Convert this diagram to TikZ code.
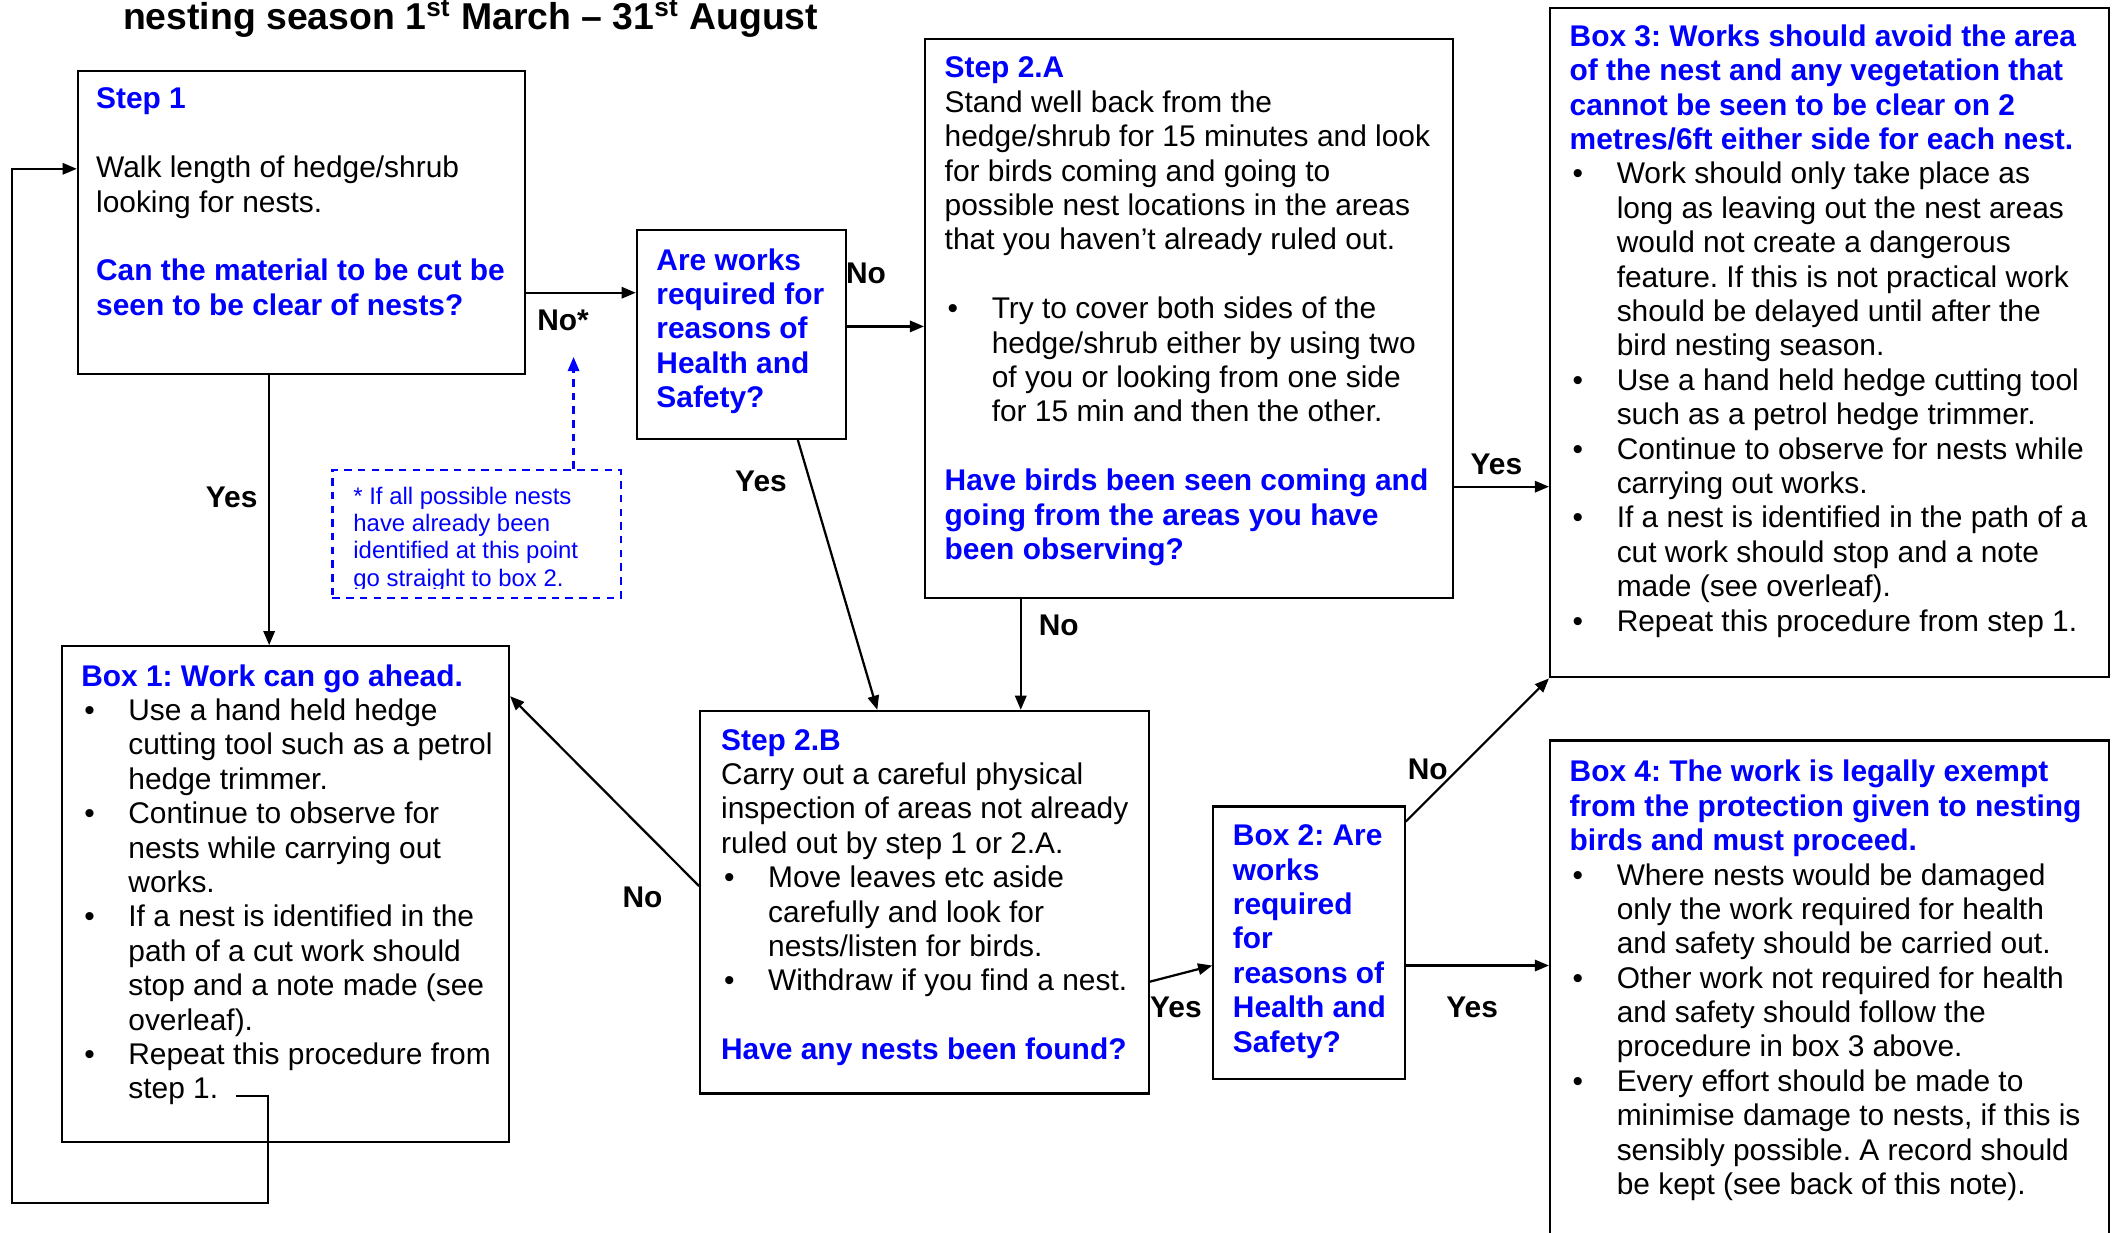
\documentclass[tikz,border=0pt]{standalone}
\usepackage{fontspec}
\setmainfont{Liberation Sans}
\usetikzlibrary{arrows.meta}
\frenchspacing

\newlength{\bulind}
\setlength{\bulind}{18.9pt}
\newcommand{\hd}[1]{{\color{blue}\bfseries #1}}
\newcommand{\bitem}{\makebox[\bulind][l]{\hspace*{1.2pt}\textbullet}}
\newcommand{\bcont}{\hspace*{\bulind}}

\begin{document}
\begin{tikzpicture}[x=0.019cm, y=-0.019cm,
    box/.style 2 args={draw, line width=0.9pt, minimum width=#1*0.019cm, minimum height=#2*0.019cm, anchor=north west, inner sep=0pt},
    txt/.style={anchor=north west, align=left, inner sep=0pt, font=\fontsize{12}{13.8}\selectfont},
    lbl/.style={inner sep=0pt, font=\fontsize{12}{13.8}\selectfont\bfseries},
    arr/.style={line width=0.9pt, -{Triangle[length=0.2cm,width=0.16cm]}},
    notearr/.style={blue, line width=0.9pt, dash pattern=on 3pt off 2.5pt, -{Triangle[length=0.2cm,width=0.16cm]}}]
    \useasboundingbox (0,0) rectangle (1568,915);

    % Title (cut at the top)
    \node[anchor=base west, inner sep=0pt, font=\fontsize{15}{18}\selectfont\bfseries] (title) at (91,22)
        {nesting season 1\textsuperscript{st} March – 31\textsuperscript{st} August};

    % Boxes
    \node[box={332}{225}] (s1) at (57,52) {};
    \node[box={155}{155}] (hs1) at (472,170) {};
    \node[box={392}{415}] (s2a) at (686,28) {};
    \node[box={415}{497}] (b3) at (1150,5) {};
    \node[box={332}{368}] (b1) at (45,479) {};
    \node[box={333}{284}] (s2b) at (519,527) {};
    \node[box={142}{202}] (b2) at (900,598) {};
    \node[box={415}{380}] (b4) at (1150,549) {};
    \node[box={214}{95}, draw=blue, dash pattern=on 3pt off 2.5pt] (note) at (246,348) {};

    % Texts in the boxes
    \node[txt] (s1t) at (71,65) {\hd{Step 1}\\[13.8pt]
        Walk length of hedge/shrub\\
        looking for nests.\\[13.8pt]
        \hd{Can the material to be cut be}\\
        \hd{seen to be clear of nests?}};
    \node[txt] (hs1t) at (487,184) {\hd{Are works}\\ \hd{required for}\\ \hd{reasons of}\\ \hd{Health and}\\ \hd{Safety?}};
    \node[txt] (s2at) at (701,42) {\hd{Step 2.A}\\
        Stand well back from the\\
        hedge/shrub for 15 minutes and look\\
        for birds coming and going to\\
        possible nest locations in the areas\\
        that you haven’t already ruled out.\\[13.8pt]
        \bitem Try to cover both sides of the\\
        \bcont hedge/shrub either by using two\\
        \bcont of you or looking from one side\\
        \bcont for 15 min and then the other.\\[13.8pt]
        \hd{Have birds been seen coming and}\\
        \hd{going from the areas you have}\\
        \hd{been observing?}};
    \node[txt] (b3t) at (1165,18) {\hd{Box 3: Works should avoid the area}\\
        \hd{of the nest and any vegetation that}\\
        \hd{cannot be seen to be clear on 2}\\
        \hd{metres/6ft either side for each nest.}\\
        \bitem Work should only take place as\\
        \bcont long as leaving out the nest areas\\
        \bcont would not create a dangerous\\
        \bcont feature. If this is not practical work\\
        \bcont should be delayed until after the\\
        \bcont bird nesting season.\\
        \bitem Use a hand held hedge cutting tool\\
        \bcont such as a petrol hedge trimmer.\\
        \bitem Continue to observe for nests while\\
        \bcont carrying out works.\\
        \bitem If a nest is identified in the path of a\\
        \bcont cut work should stop and a note\\
        \bcont made (see overleaf).\\
        \bitem Repeat this procedure from step 1.};
    \node[txt] (b1t) at (60,493) {\hd{Box 1: Work can go ahead.}\\
        \bitem Use a hand held hedge\\
        \bcont cutting tool such as a petrol\\
        \bcont hedge trimmer.\\
        \bitem Continue to observe for\\
        \bcont nests while carrying out\\
        \bcont works.\\
        \bitem If a nest is identified in the\\
        \bcont path of a cut work should\\
        \bcont stop and a note made (see\\
        \bcont overleaf).\\
        \bitem Repeat this procedure from\\
        \bcont step 1.};
    \node[txt] (s2bt) at (535,541) {\hd{Step 2.B}\\
        Carry out a careful physical\\
        inspection of areas not already\\
        ruled out by step 1 or 2.A.\\
        \bitem Move leaves etc aside\\
        \bcont carefully and look for\\
        \bcont nests/listen for birds.\\
        \bitem Withdraw if you find a nest.\\[13.8pt]
        \hd{Have any nests been found?}};
    \node[txt] (b2t) at (915,612) {\hd{Box 2: Are}\\ \hd{works}\\ \hd{required}\\ \hd{for}\\ \hd{reasons of}\\ \hd{Health and}\\ \hd{Safety?}};
    \node[txt] (b4t) at (1165,564) {\hd{Box 4: The work is legally exempt}\\
        \hd{from the protection given to nesting}\\
        \hd{birds and must proceed.}\\
        \bitem Where nests would be damaged\\
        \bcont only the work required for health\\
        \bcont and safety should be carried out.\\
        \bitem Other work not required for health\\
        \bcont and safety should follow the\\
        \bcont procedure in box 3 above.\\
        \bitem Every effort should be made to\\
        \bcont minimise damage to nests, if this is\\
        \bcont sensibly possible. A record should\\
        \bcont be kept (see back of this note).};
    \begin{scope}
        \clip (246,348) rectangle (460,437);
        \node[txt, text=blue, font=\fontsize{9.6}{11}\selectfont] (notet) at (262,361)
            {* If all possible nests\\ have already been\\ identified at this point\\ go straight to box 2.};
    \end{scope}

    % Connectors
    \coordinate (loopc) at (9,893);
    \draw[arr] ([shift={(130,-35)}]b1.south west) -- ++(24,0) |- (loopc) |- ([shift={(0,-40)}]s1.west);
    \draw[arr] ([shift={(-24,0)}]s1.south) -- ([shift={(-24,0)}]s1.south |- b1.north);
    \draw[arr] ([shift={(0,52)}]s1.east) -- ([shift={(0,52)}]s1.east -| hs1.west);
    \draw[notearr] ([shift={(72,0)}]note.north) -- ++(0,-83);
    \draw[arr] ([shift={(0,-6)}]hs1.east) -- ([shift={(0,-6)}]hs1.east -| s2a.west);
    \draw[arr] ([shift={(42,0)}]hs1.south) -- ([shift={(-35,0)}]s2b.north);
    \draw[arr] ([shift={(-125,0)}]s2a.south) -- ([shift={(-125,0)}]s2a.south |- s2b.north);
    \draw[arr] ([shift={(0,125)}]s2a.east) -- ([shift={(0,125)}]s2a.east -| b3.west);
    \draw[arr] ([shift={(0,-12)}]s2b.west) -- ([shift={(0,-147)}]b1.east);
    \draw[arr] ([shift={(0,59)}]s2b.east) -- ([shift={(0,17)}]b2.west);
    \draw[arr] ([shift={(0,17)}]b2.east) -- ([shift={(0,17)}]b2.east -| b4.west);
    \draw[arr] ([shift={(0,12)}]b2.north east) -- (b3.south west);

    % Labels on the connectors
    \node[lbl] (lyes1) at (172,369) {Yes};
    \node[lbl] (lnostar) at (418,238) {No*};
    \node[lbl] (lno1) at (643,203) {No};
    \node[lbl] (lyes2) at (565,357) {Yes};
    \node[lbl] (lno2) at (786,464) {No};
    \node[lbl] (lyes3) at (1111,345) {Yes};
    \node[lbl] (lno3) at (477,666) {No};
    \node[lbl] (lyes4) at (873,748) {Yes};
    \node[lbl] (lyes5) at (1093,748) {Yes};
    \node[lbl] (lno4) at (1060,571) {No};
\end{tikzpicture}
\end{document}
